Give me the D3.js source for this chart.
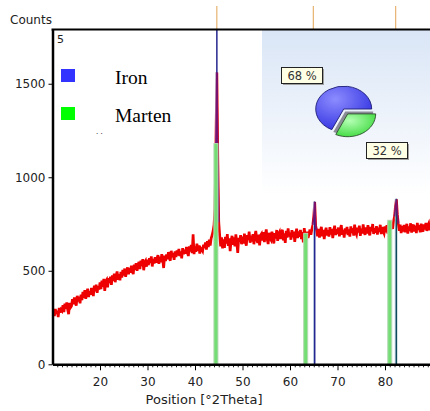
<!DOCTYPE html>
<html>
<head>
<meta charset="utf-8">
<script src="https://cdn.jsdelivr.net/npm/d3@7"></script>
<style>
  body { margin: 0; background: #fff; }
</style>
</head>
<body>
<svg id="chart" width="430" height="411" font-family="DejaVu Sans, sans-serif"></svg>
<script>
// scan: counts every 0.2 deg from 10 deg
const scanStart = 10;
const scanStep = 0.2;
const counts = [
  262, 291, 258, 296, 270, 287, 252, 301, 276, 293,
  286, 316, 279, 324, 297, 331, 292, 268, 328, 304,
  312, 348, 321, 357, 330, 314, 366, 336, 361, 326,
  372, 343, 387, 356, 396, 350, 379, 404, 360, 391,
  373, 408, 386, 365, 420, 391, 426, 382, 417, 399,
  438, 402, 447, 414, 457, 392, 444, 452, 411, 461,
  434, 468, 425, 476, 446, 484, 439, 472, 496, 452,
  482, 449, 494, 464, 504, 475, 512, 468, 499, 518,
  481, 515, 490, 527, 497, 482, 533, 506, 541, 500,
  530, 547, 509, 554, 526, 562, 503, 544, 553, 522,
  559, 530, 568, 542, 577, 523, 563, 539, 572, 543,
  567, 584, 537, 575, 546, 589, 560, 515, 581, 552,
  588, 561, 600, 567, 554, 607, 572, 595, 559, 603,
  573, 609, 582, 617, 578, 604, 566, 621, 588, 612,
  592, 627, 597, 579, 631, 603, 638, 595, 695, 589,
  630, 601, 645, 607, 636, 592, 621, 614, 605, 640,
  622, 651, 613, 658, 627, 666, 635, 674, 690, 712,
  745, 830, 1180, 1560, 1100, 760, 690, 630, 678, 620,
  668, 622, 681, 645, 696, 633, 673, 605, 664, 687,
  639, 678, 630, 695, 648, 596, 676, 655, 690, 642,
  683, 645, 698, 658, 634, 691, 664, 709, 650, 687,
  657, 696, 642, 685, 713, 665, 649, 694, 636, 690,
  698, 662, 707, 653, 692, 721, 668, 643, 703, 674,
  665, 709, 682, 646, 701, 673, 718, 660, 696, 707,
  670, 705, 719, 662, 700, 649, 713, 677, 726, 684,
  704, 666, 717, 679, 709, 654, 700, 725, 675, 711,
  682, 718, 670, 706, 652, 728, 684, 660, 709, 675,
  698, 720, 692, 722, 745, 790, 868, 740, 718, 684,
  724, 678, 712, 735, 685, 719, 669, 708, 730, 689,
  717, 683, 733, 694, 724, 675, 715, 741, 691, 722,
  697, 731, 684, 723, 744, 693, 718, 678, 726, 700,
  734, 691, 721, 683, 737, 702, 728, 688, 747, 707,
  694, 730, 705, 741, 687, 725, 700, 748, 709, 692,
  732, 699, 744, 706, 690, 735, 711, 750, 697, 727,
  704, 739, 693, 731, 708, 746, 696, 734, 713, 700,
  737, 706, 744, 699, 752, 768, 719, 747, 724, 765,
  790, 845, 882, 800, 752, 714, 747, 702, 739, 710,
  745, 706, 734, 751, 699, 737, 713, 754, 704, 733,
  747, 710, 741, 702, 756, 718, 744, 705, 752, 723,
  709, 748, 720, 756, 713, 741, 753, 716, 744, 750,
  730
];

const ironPeaks = [44.6, 65.2, 82.4];
const ironHeights = [1800, 870, 885];
const ironRefTicks = [44.6, 64.9, 82.25];
const martenPeaks = [44.4, 63.3, 81.0];
const martenHeights = [1180, 700, 770];

const phaseNames = ["Iron", "Marten"];
const phaseShares = [68, 32];
const phaseColors = ["#3333ff", "#00ff00"];

const yTicks = [0, 500, 1000, 1500];
const xTicks = [20, 30, 40, 50, 60, 70, 80];

const pLeft = 52.5, pRight = 430, pTop = 29.5, pBottom = 364.3;
const svg = d3.select("#chart");
const defs = svg.append("defs");

const x = d3.scaleLinear().domain([10, 89.47]).range([pLeft, pRight]);
const y = d3.scaleLinear().domain([0, 1790]).range([pBottom, pTop]);

const scan = counts.map((c, i) => ({ pos: scanStart + i * scanStep, c: c }));

defs.append("clipPath").attr("id", "plotclip")
  .append("rect")
  .attr("x", pLeft).attr("y", pTop)
  .attr("width", pRight - pLeft).attr("height", pBottom - pTop);

// light blue panel behind the pie
const bg = defs.append("linearGradient").attr("id", "panel")
  .attr("x1", 0).attr("y1", 0).attr("x2", 0).attr("y2", 1);
bg.append("stop").attr("offset", 0).attr("stop-color", "#d9e5f6");
bg.append("stop").attr("offset", 1).attr("stop-color", "#ffffff");
svg.append("rect")
  .attr("x", 262).attr("y", pTop)
  .attr("width", pRight - 262).attr("height", 165)
  .attr("fill", "url(#panel)");

const plot = svg.append("g").attr("clip-path", "url(#plotclip)");

// measured scan
plot.append("path")
  .datum(scan)
  .attr("fill", "none")
  .attr("stroke", "#ee0000")
  .attr("stroke-width", 2.7)
  .attr("d", d3.line().x(d => x(d.pos)).y(d => y(d.c)));

// iron profile fill
plot.selectAll("rect.ironfill")
  .data(ironPeaks)
  .join("rect")
  .attr("class", "ironfill")
  .attr("x", d => x(d - 0.35))
  .attr("width", d => x(d) - x(d - 0.35))
  .attr("y", (d, i) => y(Math.min(ironHeights[i], 1560)))
  .attr("height", (d, i) => pBottom - y(Math.min(ironHeights[i], 1560)))
  .attr("fill", "#b6c9de");

// iron sticks
plot.selectAll("line.iron")
  .data(ironPeaks)
  .join("line")
  .attr("class", "iron")
  .attr("x1", d => x(d)).attr("x2", d => x(d))
  .attr("y1", pBottom)
  .attr("y2", (d, i) => y(ironHeights[i]))
  .attr("stroke", (d, i) => i == 2 ? "#0d4a5a" : "#25258f")
  .attr("stroke-width", 1.5);

// peak tops in purple
ironPeaks.forEach(p => {
  plot.append("path")
    .datum(scan.filter(d => Math.abs(d.pos - p) <= 0.41))
    .attr("fill", "none")
    .attr("stroke", "#7a1070")
    .attr("stroke-width", 1.6)
    .attr("d", d3.line().x(d => x(d.pos)).y(d => y(d.c)));
});

// marten bars
plot.selectAll("rect.marten")
  .data(martenPeaks)
  .join("rect")
  .attr("class", "marten")
  .attr("x", d => x(d) - 2)
  .attr("width", 4)
  .attr("y", (d, i) => y(martenHeights[i]))
  .attr("height", (d, i) => pBottom - y(martenHeights[i]))
  .attr("fill", "#74de74")
  .attr("stroke", "#b5d8b5")
  .attr("stroke-width", 1);

// reference ticks above the frame
svg.selectAll("line.ref")
  .data(ironRefTicks)
  .join("line")
  .attr("class", "ref")
  .attr("x1", d => x(d)).attr("x2", d => x(d))
  .attr("y1", 6).attr("y2", pTop)
  .attr("stroke", "#e3a453")
  .attr("stroke-width", 1);

// axes
const yAxis = svg.append("g")
  .attr("transform", `translate(${pLeft},0)`)
  .call(d3.axisLeft(y).tickValues(yTicks).tickFormat(d3.format("d"))
    .tickSize(4).tickPadding(3).tickSizeOuter(0));
yAxis.select(".domain").attr("stroke", "#000").attr("stroke-width", 2.5);
yAxis.selectAll("text").attr("font-size", 12).attr("fill", "#222")
  .attr("font-family", "DejaVu Sans, sans-serif");

svg.append("g")
  .attr("transform", `translate(0,${pBottom})`)
  .call(d3.axisBottom(x).tickValues(d3.range(11, 90).filter(v => v % 10 != 0))
    .tickSize(3).tickFormat("").tickSizeOuter(0))
  .call(g => g.select(".domain").remove())
  .selectAll("line").attr("stroke", "#222");

const xAxis = svg.append("g")
  .attr("transform", `translate(0,${pBottom})`)
  .call(d3.axisBottom(x).tickValues(xTicks).tickSize(6).tickPadding(7.5).tickSizeOuter(0));
xAxis.select(".domain").attr("stroke", "#000").attr("stroke-width", 2.5);
xAxis.selectAll("text").attr("font-size", 12).attr("fill", "#222")
  .attr("font-family", "DejaVu Sans, sans-serif");

svg.append("line")
  .attr("x1", pLeft - 1).attr("x2", pRight)
  .attr("y1", pTop).attr("y2", pTop)
  .attr("stroke", "#000").attr("stroke-width", 2.2);

svg.append("text").attr("x", 10).attr("y", 24)
  .attr("font-size", 12).attr("fill", "#222").text("Counts");
svg.append("text").attr("x", 204).attr("y", 404)
  .attr("text-anchor", "middle")
  .attr("font-size", 13).attr("fill", "#222").text("Position [°2Theta]");
svg.append("text").attr("x", 57).attr("y", 43)
  .attr("font-size", 11).attr("fill", "#222").text("5");

// legend
const legend = svg.append("g");
phaseNames.forEach((name, i) => {
  legend.append("rect")
    .attr("x", 61).attr("y", 69 + i * 38)
    .attr("width", 14).attr("height", 13)
    .attr("fill", phaseColors[i]);
  legend.append("text")
    .attr("x", 115).attr("y", 83.5 + i * 38)
    .attr("font-family", "Liberation Serif, Times New Roman, serif")
    .attr("font-size", 19.5).attr("fill", "#000")
    .text(name);
});
legend.append("text").attr("x", 96).attr("y", 134)
  .attr("font-size", 7).attr("fill", "#000").text(". .");

// phase pie
const gBlue = defs.append("radialGradient").attr("id", "gblue")
  .attr("cx", 0.35).attr("cy", 0.3).attr("r", 0.8);
gBlue.append("stop").attr("offset", 0).attr("stop-color", "#8c8cff");
gBlue.append("stop").attr("offset", 1).attr("stop-color", "#2f2fe0");
const gGreen = defs.append("radialGradient").attr("id", "ggreen")
  .attr("cx", 0.35).attr("cy", 0.3).attr("r", 0.8);
gGreen.append("stop").attr("offset", 0).attr("stop-color", "#b4ffb4");
gGreen.append("stop").attr("offset", 1).attr("stop-color", "#38d838");

const startA = 205.2 * Math.PI / 180;
const pie = d3.pie().sort(null).startAngle(startA).endAngle(startA + 2 * Math.PI);
const slices = pie(phaseShares);
const arc = d3.arc().innerRadius(0).outerRadius(28);
const pieG = svg.append("g").attr("transform", "translate(343.7,109) scale(1,0.815)");

pieG.append("path")
  .attr("d", arc(slices[0]))
  .attr("fill", "url(#gblue)")
  .attr("stroke", "#1f1f78").attr("stroke-width", 1);
pieG.append("path")
  .attr("transform", "translate(1.5,3)")
  .attr("d", arc(slices[1]))
  .attr("fill", "#8b8b98");
pieG.append("path")
  .attr("transform", "translate(4,6)")
  .attr("d", arc(slices[1]))
  .attr("fill", "url(#ggreen)")
  .attr("stroke", "#2f4f2f").attr("stroke-width", 1);

// percentage tags
const tags = [[281, 67], [366, 142]];
phaseShares.forEach((v, i) => {
  const t = svg.append("g").attr("transform", `translate(${tags[i][0]},${tags[i][1]})`);
  t.append("rect").attr("x", 2).attr("y", 2).attr("width", 41).attr("height", 16)
    .attr("fill", "#a0a0a0");
  t.append("rect").attr("x", 0.5).attr("y", 0.5).attr("width", 41).attr("height", 16)
    .attr("fill", "#ffffe6").attr("stroke", "#222").attr("stroke-width", 1);
  t.append("text").attr("x", 21).attr("y", 12.5)
    .attr("text-anchor", "middle").attr("font-size", 11.5).attr("fill", "#333")
    .text(v + " %");
});
</script>
</body>
</html>
